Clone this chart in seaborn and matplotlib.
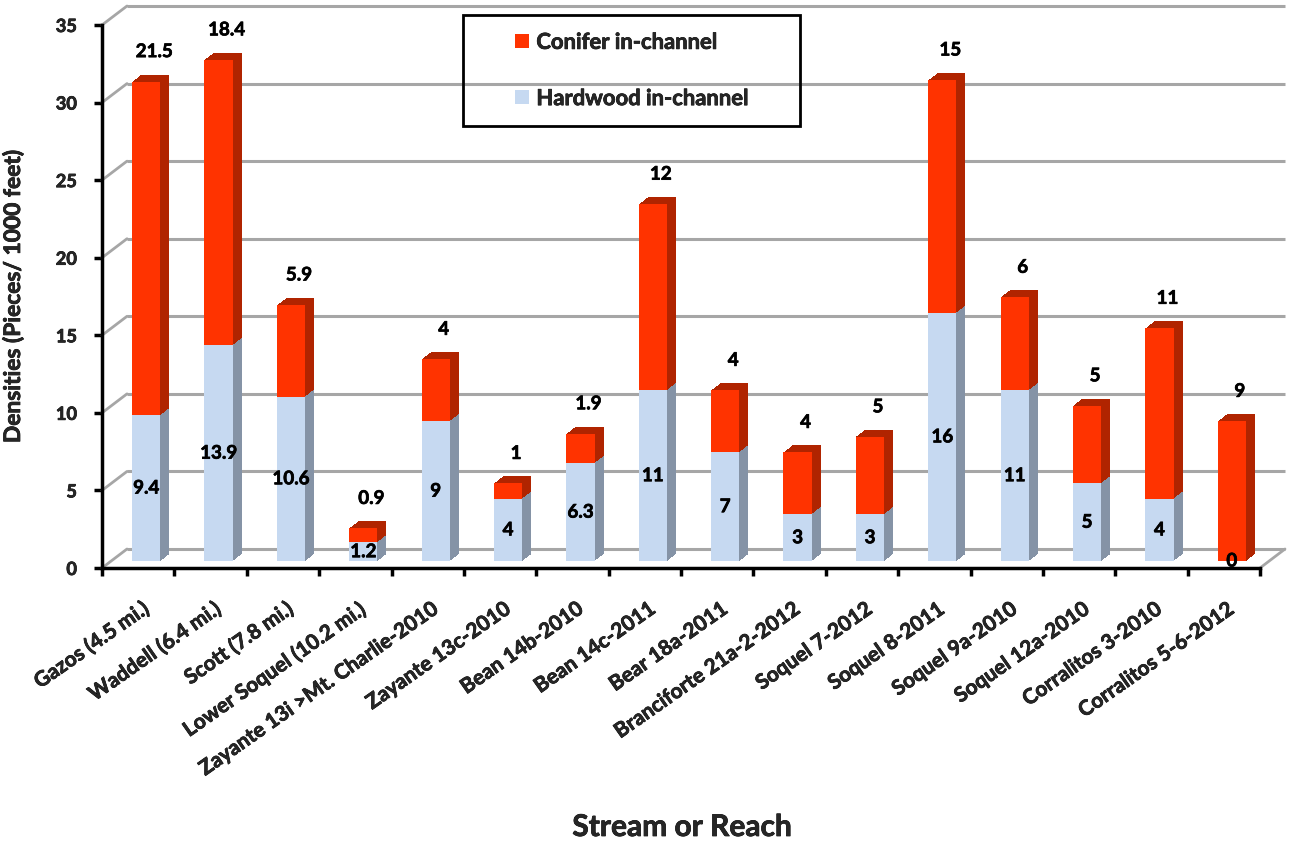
import numpy as np
import pandas as pd
import seaborn as sns
import matplotlib
matplotlib.use("Agg")
import matplotlib.pyplot as plt
import matplotlib.patheffects as pe
from matplotlib.transforms import ScaledTranslation
from matplotlib.patches import Rectangle, Patch

# ---------------- data ----------------
categories = [
    "Gazos (4.5 mi.)", "Waddell (6.4 mi.)", "Scott (7.8 mi.)",
    "Lower Soquel (10.2 mi.)", "Zayante 13i >Mt. Charlie-2010",
    "Zayante 13c-2010", "Bean 14b-2010", "Bean 14c-2011", "Bear 18a-2011",
    "Branciforte 21a-2-2012", "Soquel 7-2012", "Soquel 8-2011",
    "Soquel 9a-2010", "Soquel 12a-2010", "Corralitos 3-2010",
    "Corralitos 5-6-2012",
]
hardwood = [9.4, 13.9, 10.6, 1.2, 9, 4, 6.3, 11, 7, 3, 3, 16, 11, 5, 4, 0]
conifer = [21.5, 18.4, 5.9, 0.9, 4, 1, 1.9, 12, 4, 4, 5, 15, 6, 5, 11, 9]
hardwood_labels = ["9.4", "13.9", "10.6", "1.2", "9", "4", "6.3", "11", "7",
                   "3", "3", "16", "11", "5", "4", "0"]
conifer_labels = ["21.5", "18.4", "5.9", "0.9", "4", "1", "1.9", "12", "4",
                  "4", "5", "15", "6", "5", "11", "9"]
yticks = [0, 5, 10, 15, 20, 25, 30, 35]
series_names = ["Conifer in-channel", "Hardwood in-channel"]

# ---------------- style ----------------
RED = "#FF3300"
RED_DARK = "#B02400"
BLUE = "#C6D9F1"
BLUE_DARK = "#8593A6"
GRID = "#A6A6A6"
HEAVY = [pe.withStroke(linewidth=0.5, foreground="black")]

sns.set_theme(style="white")
plt.rcParams["font.family"] = ["Lato", "DejaVu Sans"]
plt.rcParams["font.weight"] = "bold"

W, H = 1293, 846
fig = plt.figure(figsize=(W / 100, H / 100), dpi=100)
renderer = fig.canvas.get_renderer()


def fit_size(s, target_px):
    t = fig.text(0, 0, s, fontsize=10, fontweight="bold")
    w = t.get_window_extent(renderer).width
    t.remove()
    return 10.0 * target_px / w


FS_XT = 0.5 * (fit_size("Gazos (4.5 mi.)", 140) +
               fit_size("Corralitos 3-2010", 158))
FS_YL = fit_size("Densities (Pieces/ 1000 feet)", 294)
FS_YT = fit_size("35", 21)
FS_DL = fit_size("21.5", 37)
FS_LEG = fit_size("Hardwood in-channel", 213)
FS_TITLE = fit_size("Stream or Reach", 220)

ax = fig.add_axes([102 / W, 1 - 568 / H, (1260 - 102) / W, (568 - 25) / H])

df = pd.DataFrame({"cat": categories, "hard": hardwood, "con": conifer})
xpos = np.arange(len(categories))
bw = 0.39

# offsets (inches) for pseudo-3D
FX, FY = 0.08, 0.07      # front face shift
DX, DY = 0.09, 0.07      # depth of the block
BWX, BWY = 0.25, 0.19    # back wall shift


def shift(patches, ox, oy):
    for p in patches:
        p.set_transform(ax.transData + ScaledTranslation(ox, oy, fig.dpi_scale_trans))


# extruded sides / tops
nsteps = 14
for k in range(nsteps, 0, -1):
    f = k / nsteps
    n0 = len(ax.patches)
    ax.bar(xpos, conifer, bottom=hardwood, width=bw, color=RED_DARK,
           edgecolor="none", linewidth=0, zorder=2)
    shift(ax.patches[n0:], FX + DX * f, FY + DY * f)
    n0 = len(ax.patches)
    sns.barplot(data=df, x="cat", y="hard", color=BLUE_DARK, saturation=1,
                width=bw, errorbar=None, edgecolor="none", linewidth=0,
                zorder=2, ax=ax)
    shift(ax.patches[n0:], FX + DX * f, FY + DY * f)

# front faces
n0 = len(ax.patches)
sns.barplot(data=df, x="cat", y="hard", color=BLUE, saturation=1, width=bw,
            errorbar=None, edgecolor="none", linewidth=0, zorder=3, ax=ax)
shift(ax.patches[n0:], FX, FY)
n0 = len(ax.patches)
ax.bar(xpos, conifer, bottom=hardwood, width=bw, color=RED,
       edgecolor="none", linewidth=0, zorder=3)
shift(ax.patches[n0:], FX, FY)

# data labels
for i in range(len(categories)):
    ax.text(i, hardwood[i] / 2, hardwood_labels[i], ha="center", va="center",
            fontsize=FS_DL, fontweight="bold", color="black", zorder=5,
            path_effects=HEAVY,
            transform=ax.transData + ScaledTranslation(FX, FY, fig.dpi_scale_trans))
    ax.text(i, hardwood[i] + conifer[i], conifer_labels[i], ha="center",
            va="center", fontsize=FS_DL, fontweight="bold", color="black",
            zorder=5, path_effects=HEAVY,
            transform=ax.transData + ScaledTranslation(FX + 0.08, FY + 0.30,
                                                       fig.dpi_scale_trans))

# back-wall gridlines & floor
x0, x1 = -0.5, len(categories) - 0.5
wall = ax.transData + ScaledTranslation(BWX, BWY, fig.dpi_scale_trans)
for y in yticks:
    ax.plot([x0, x1], [y, y], color=GRID, lw=2.2, transform=wall,
            clip_on=False, zorder=1, solid_capstyle="butt")
    ax.annotate("", xy=(x0, y), xytext=(BWX * 100, BWY * 100),
                textcoords="offset pixels", annotation_clip=False,
                arrowprops=dict(arrowstyle="-", color=GRID, lw=2,
                                shrinkA=0, shrinkB=0), zorder=1)
ax.annotate("", xy=(x1, 0), xytext=(BWX * 100, BWY * 100),
            textcoords="offset pixels", annotation_clip=False,
            arrowprops=dict(arrowstyle="-", color=GRID, lw=2,
                            shrinkA=0, shrinkB=0), zorder=1)

# axes
ax.set_xlim(x0, x1)
ax.set_ylim(0, 35)
ax.set_yticks(yticks)
ax.set_yticklabels([str(v) for v in yticks], fontsize=FS_YT, fontweight="bold")
ax.set_xticks(xpos)
ax.set_xticklabels(categories, rotation=35, ha="right", va="top",
                   rotation_mode="anchor", fontsize=FS_XT, fontweight="bold")
ax.set_xticks(np.arange(x0, x1 + 0.01, 1.0), minor=True)
ax.tick_params(axis="x", which="major", length=0, pad=22)
ax.tick_params(axis="x", which="minor", length=6, width=2.5, color="black",
               direction="out", bottom=True)
ax.tick_params(axis="y", which="major", length=6, width=2.5, color="black",
               direction="out", left=True, pad=12)
for lab in ax.get_xticklabels():
    lab.set_transform(lab.get_transform() +
                      ScaledTranslation(0.03, 0, fig.dpi_scale_trans))
    lab.set_path_effects(HEAVY)
for lab in ax.get_yticklabels():
    lab.set_path_effects(HEAVY)
for s in ["top", "right"]:
    ax.spines[s].set_visible(False)
for s in ["left", "bottom"]:
    ax.spines[s].set_color("black")
    ax.spines[s].set_linewidth(2.5)
    ax.spines[s].set_zorder(6)
ax.patch.set_alpha(0)
ax.grid(False)

ax.set_xlabel("")
ax.set_ylabel("Densities (Pieces/ 1000 feet)", fontsize=FS_YL, fontweight="bold")
ax.yaxis.label.set_path_effects(HEAVY)
ax.yaxis.set_label_coords((24 - 102) / (1260 - 102), 0.5)
fig.text(682 / W, 1 - 827 / H, "Stream or Reach", ha="center", va="center",
         fontsize=FS_TITLE, fontweight="bold", path_effects=HEAVY)

# legend
handles = [Patch(facecolor=RED, edgecolor="none"),
           Patch(facecolor=BLUE, edgecolor="none")]
leg = fig.legend(handles, series_names, loc="center left",
                 bbox_to_anchor=(515 / W, 1 - 70.5 / H), frameon=False,
                 prop={"weight": "bold", "size": FS_LEG},
                 handlelength=0.62, handleheight=0.62, handletextpad=0.35,
                 labelspacing=1.6, borderpad=0, borderaxespad=0)
for t in leg.get_texts():
    t.set_path_effects(HEAVY)
fig.patches.append(Rectangle((463 / W, 1 - 126 / H), 337 / W, 111 / H,
                             transform=fig.transFigure, fill=False,
                             edgecolor="black", linewidth=2, zorder=10))

fig.savefig("out.png", dpi=100, facecolor="white")
